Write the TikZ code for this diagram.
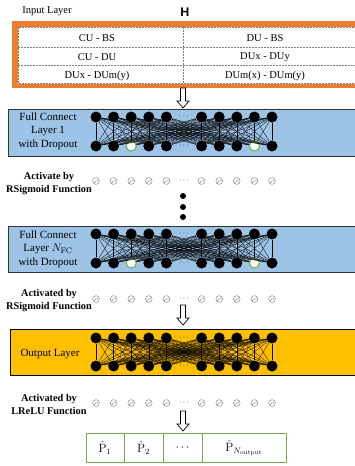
\documentclass[tikz,border=0pt]{standalone}
\usepackage[no-math]{fontspec}
\setmainfont{Liberation Serif}
\newfontfamily\headsans{Liberation Sans}
\definecolor{frameorange}{HTML}{ED7D31}
\definecolor{layerblue}{HTML}{9DC3E6}
\definecolor{layergold}{HTML}{FFC000}
\definecolor{dropgreen}{HTML}{70AD47}

\tikzset{
  unit/.style={circle, fill=black, inner sep=0pt, minimum size=11pt},
  dropunit/.style={circle, fill=white, draw=dropgreen, line width=1pt, inner sep=0pt, minimum size=10pt},
  link/.style={line width=0.3pt, black},
  ellip/.style={inner sep=0pt, font=\fontsize{8}{8}\selectfont},
  layerbox/.style={draw=black!80, line width=0.9pt},
  cellrule/.style={draw=black!50, dash pattern=on 2pt off 1pt, line width=0.6pt},
  celltext/.style={font=\fontsize{10.5}{12}\selectfont},
  lbl/.style={font=\fontsize{11}{13.5}\selectfont, align=center},
  actlbl/.style={font=\bfseries\fontsize{10.3}{13}\selectfont, align=center},
  outcell/.style={draw=dropgreen, line width=1pt, minimum height=29pt, inner sep=0pt,
    font=\fontsize{12}{12}\selectfont},
  pics/downarrow/.style={code={
    \draw[line width=0.7pt, fill=white] (-2.5,0) -- (2.5,0) -- (2.5,13) -- (6,13)
      -- (0,20) -- (-6,13) -- (-2.5,13) -- cycle;}},
  pics/actunit/.style={code={
    \draw[gray, line width=0.45pt] (0,0) circle (3.4);
    \draw[gray, line width=0.45pt] (-2.2,2) -- (0,0) -- (2.3,-0.5);}}
}

% one fully connected block: prefix, top-row y, bottom-row y, index/style list of the bottom row
\newcommand\fcnet[4]{%
  \foreach \k in {0,1,2,3,4,6,7,8,9,10}
    \node[unit] (#1t\k) at ({96+17.6*\k},#2) {};
  \foreach \k/\s in {#4}
    \node[\s] (#1b\k) at ({96+17.6*\k},#3) {};
  \foreach \i in {0,1,2,3,4,6,7,8,9,10}
    \foreach \j in {0,1,2,3,4,6,7,8,9,10}
      \draw[link] (#1t\i) -- (#1b\j);
  \node[ellip] (#1td) at (184,#2) {$\cdots$};
  \node[ellip] (#1bd) at (184,#3) {$\cdots$};
}

% a row of activation units
\newcommand\actrow[2]{%
  \foreach \k in {0,1,2,3,4,6,7,8,9,10}
    \pic at ({96+17.6*\k},#2) {actunit};
  \node[ellip] (#1d) at (184,#2) {$\cdots$};
}

\begin{document}
\begin{tikzpicture}[x=1pt, y=-1pt]
\useasboundingbox (0,0) rectangle (354,466);

% input layer
\node[lbl, font=\fontsize{10.5}{12}\selectfont] (inlbl) at (47,11) {Input Layer};
\node[font=\headsans\bfseries\fontsize{12.5}{13}\selectfont] (hlbl) at (185,12) {H};
\fill[frameorange] (12,21) rectangle (362,88);
\fill[white] (18,27) rectangle (362,83.5);
\draw[cellrule] (18,27) rectangle (362,83.5);
\draw[cellrule] (18,47) -- (362,47);
\draw[cellrule] (18,65) -- (362,65);
\draw[cellrule] (183,27) -- (183,83.5);
\node[celltext] (c11) at (97,38.5) {CU - BS};
\node[celltext] (c12) at (265,38.5) {DU - BS};
\node[celltext] (c21) at (97,57) {CU - DU};
\node[celltext] (c22) at (265,57) {DUx - DUy};
\node[celltext] (c31) at (97,76) {DUx - DUm(y)};
\node[celltext] (c32) at (265,76) {DUm(x) - DUm(y)};

\pic at (183,88) {downarrow};

% first fully connected layer
\filldraw[fill=layerblue, layerbox] (8,109.5) rectangle (362,156);
\node[lbl] (fc1lbl) at (48,131) {Full Connect\\Layer 1\\with Dropout};
\fcnet{A}{117}{146}{0/unit,1/unit,2/dropunit,3/unit,4/unit,6/unit,7/unit,8/unit,9/dropunit,10/unit}

\node[actlbl] (act1lbl) at (49,183.5) {Activate by\\RSigmoid Function};
\actrow{R}{181}

\foreach \y [count=\n] in {196,207,217}
  \fill (183,\y) circle (3);

% last fully connected layer
\filldraw[fill=layerblue, layerbox] (8,226) rectangle (362,272);
\node[lbl] (fc2lbl) at (48,249) {Full Connect\\Layer $N_{\mathrm{FC}}$\\with Dropout};
\fcnet{B}{234}{263}{0/unit,1/unit,2/dropunit,3/unit,4/unit,6/unit,7/unit,8/unit,9/dropunit,10/unit}

\node[actlbl] (act2lbl) at (49,301) {Activated by\\RSigmoid Function};
\actrow{S}{299}

\pic at (183,305) {downarrow};

% output layer
\filldraw[fill=layergold, draw=black, line width=1pt] (10,329) rectangle (362,375);
\node[lbl] (outlbl) at (50,354) {Output Layer};
\fcnet{C}{338}{366}{0/unit,1/unit,2/unit,3/unit,4/unit,6/unit,7/unit,8/unit,9/unit,10/unit}

\node[actlbl] (act3lbl) at (49,404) {Activated by\\LReLU Function};
\actrow{T}{403}

\pic at (183,411) {downarrow};

% predicted outputs
\node[outcell, minimum width=38pt] (p1) at (105,447.5) {$\hat{\mathrm{P}}_1$};
\node[outcell, minimum width=39pt] (p2) at (143.5,447.5) {$\hat{\mathrm{P}}_2$};
\node[outcell, minimum width=39pt] (pd) at (182.5,447.5) {$\cdots$};
\node[outcell, minimum width=84pt] (pn) at (244,447.5) {$\hat{\mathrm{P}}_{N_{\mathrm{output}}}$};
\end{tikzpicture}
\end{document}
